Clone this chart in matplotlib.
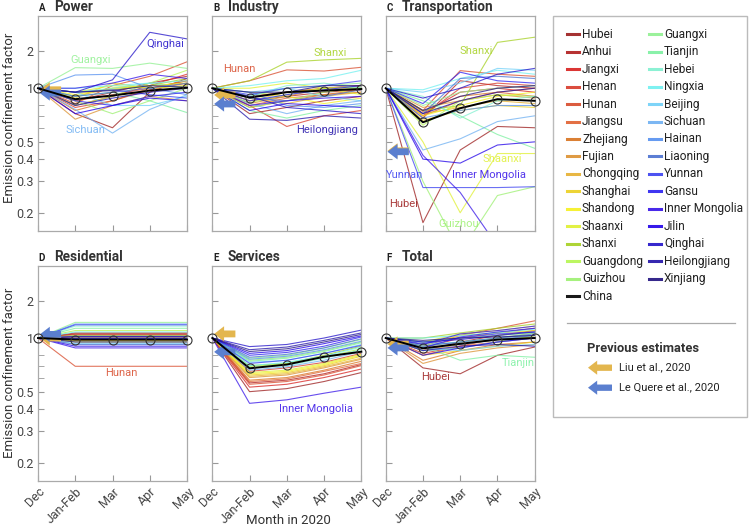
import numpy as np
import matplotlib
matplotlib.use('Agg')
import matplotlib.pyplot as plt
from matplotlib.patches import Rectangle

plt.rcParams['font.family'] = ['Roboto', 'DejaVu Sans']

months = ['Dec', 'Jan-Feb', 'Mar', 'Apr', 'May']

provinces = ['Hubei', 'Anhui', 'Jiangxi', 'Henan', 'Hunan', 'Jiangsu', 'Zhejiang',
             'Fujian', 'Chongqing', 'Shanghai', 'Shandong', 'Shaanxi', 'Shanxi',
             'Guangdong', 'Guizhou', 'Guangxi', 'Tianjin', 'Hebei', 'Ningxia',
             'Beijing', 'Sichuan', 'Hainan', 'Liaoning', 'Yunnan', 'Gansu',
             'Inner Mongolia', 'Jilin', 'Qinghai', 'Heilongjiang', 'Xinjiang']

colors = ['#9b1b1b', '#b01c1c', '#d8201e', '#d83a2a', '#d84a2a', '#e06030', '#d8721e',
          '#dc9030', '#e6b030', '#ecd020', '#f5f020', '#dff030', '#a5d020',
          '#b5f550', '#9cf070', '#90f090', '#7cf0a0', '#80f0d0', '#70f0f0',
          '#70d0f8', '#6eb0f2', '#5590f0', '#4a70d0', '#3a40f0', '#2a20f0',
          '#3512e8', '#2000e8', '#2010c8', '#2010a8', '#201080']

# values per province, Dec .. May (same order as provinces)
power = [
    [1, 0.72, 0.60, 0.95, 1.20], [1, 0.85, 0.95, 1.10, 1.25], [1, 0.80, 0.90, 1.05, 1.30],
    [1, 0.78, 0.85, 0.98, 1.10], [1, 0.82, 1.05, 1.25, 1.64], [1, 0.85, 0.92, 1.00, 1.15],
    [1, 0.75, 0.85, 1.00, 1.15], [1, 0.67, 0.80, 0.90, 0.85], [1, 0.90, 1.00, 1.05, 1.10],
    [1, 0.88, 1.10, 1.00, 1.05], [1, 0.92, 1.00, 1.05, 1.10], [1, 0.95, 1.05, 1.00, 1.05],
    [1, 0.95, 0.98, 1.05, 1.20], [1, 0.80, 0.90, 1.10, 1.40], [1, 0.85, 0.72, 0.85, 1.00],
    [1, 1.47, 1.45, 1.60, 1.45], [1, 0.90, 0.95, 0.85, 0.73], [1, 0.95, 1.00, 1.10, 1.00],
    [1, 1.00, 1.05, 1.10, 1.15], [1, 0.95, 0.80, 0.80, 0.90], [1, 0.76, 0.56, 0.76, 0.92],
    [1, 1.28, 1.30, 1.00, 0.92], [1, 0.90, 0.95, 1.00, 1.10], [1, 0.95, 0.98, 0.92, 0.88],
    [1, 0.85, 0.80, 0.90, 0.95], [1, 1.00, 1.10, 1.30, 1.20], [1, 0.72, 0.80, 0.88, 0.85],
    [1, 0.95, 1.17, 2.85, 2.52], [1, 0.80, 0.88, 0.95, 1.00], [1, 0.95, 0.97, 1.05, 1.02]]

industry = [
    [1, 0.72, 0.78, 0.85, 0.90], [1, 0.85, 0.90, 0.95, 0.98], [1, 0.90, 0.95, 1.00, 1.05],
    [1, 0.80, 0.61, 0.70, 0.75], [1, 1.15, 1.41, 1.38, 1.48], [1, 0.80, 0.88, 0.92, 0.95],
    [1, 0.78, 0.85, 0.92, 0.98], [1, 0.82, 0.90, 1.00, 1.05], [1, 0.88, 0.82, 0.90, 0.95],
    [1, 0.85, 0.95, 1.00, 1.00], [1, 0.95, 0.90, 0.82, 0.88], [1, 1.00, 1.10, 1.00, 0.92],
    [1, 1.15, 1.63, 1.70, 1.75], [1, 0.83, 0.92, 1.00, 1.02], [1, 0.78, 0.85, 0.95, 1.02],
    [1, 0.90, 1.00, 1.05, 1.10], [1, 0.75, 0.68, 0.75, 0.80], [1, 0.90, 1.05, 1.10, 1.00],
    [1, 1.05, 1.15, 1.20, 1.40], [1, 0.95, 1.00, 0.90, 0.85], [1, 0.82, 0.72, 0.80, 0.85],
    [1, 0.95, 0.80, 0.78, 0.82], [1, 0.88, 0.85, 0.90, 0.98], [1, 0.92, 1.00, 1.05, 1.15],
    [1, 0.85, 0.92, 0.98, 1.05], [1, 0.80, 0.85, 0.88, 0.90], [1, 0.75, 0.82, 0.80, 0.78],
    [1, 0.90, 0.78, 0.75, 0.72], [1, 0.67, 0.66, 0.70, 0.68], [1, 0.95, 0.95, 1.05, 1.05]]

transport = [
    [1, 0.176, 0.45, 0.61, 0.60], [1, 0.68, 1.15, 1.05, 1.00], [1, 0.72, 0.95, 1.00, 0.95],
    [1, 0.70, 1.00, 1.10, 1.05], [1, 0.75, 1.39, 1.30, 1.25], [1, 0.70, 0.85, 0.95, 0.90],
    [1, 0.74, 0.90, 0.95, 1.00], [1, 0.78, 0.85, 0.92, 0.88], [1, 0.72, 0.78, 0.85, 0.82],
    [1, 0.66, 0.75, 0.80, 0.78], [1, 0.70, 0.80, 0.90, 0.95], [1, 0.50, 0.20, 0.43, 0.43],
    [1, 0.75, 0.80, 2.36, 2.60], [1, 0.62, 0.85, 0.92, 0.90], [1, 0.30, 0.12, 0.25, 0.28],
    [1, 0.80, 0.95, 1.00, 1.05], [1, 0.85, 0.70, 0.55, 0.46], [1, 0.90, 0.68, 0.85, 0.90],
    [1, 0.98, 1.20, 1.40, 1.30], [1, 0.95, 1.10, 1.45, 1.40], [1, 0.45, 0.52, 0.65, 0.70],
    [1, 0.68, 0.75, 0.80, 0.80], [1, 0.72, 1.20, 1.25, 1.20], [1, 0.277, 0.277, 0.277, 0.28],
    [1, 0.82, 1.35, 1.15, 1.10], [1, 0.42, 0.26, 0.13, 0.10], [1, 0.40, 0.38, 0.48, 0.50],
    [1, 0.88, 1.00, 1.30, 1.45], [1, 0.72, 0.85, 0.95, 1.00], [1, 0.75, 0.90, 1.00, 1.05]]

residential = [
    [1, 1.08, 1.08, 1.08, 1.08], [1, 1.10, 1.10, 1.10, 1.10], [1, 1.05, 1.05, 1.05, 1.05],
    [1, 1.07, 1.07, 1.07, 1.07], [1, 0.694, 0.694, 0.694, 0.694], [1, 1.04, 1.04, 1.04, 1.04],
    [1, 1.02, 1.02, 1.02, 1.02], [1, 1.00, 1.00, 1.00, 1.00], [1, 0.97, 0.97, 0.97, 0.97],
    [1, 0.96, 0.96, 0.96, 0.96], [1, 0.99, 0.99, 0.99, 0.99], [1, 1.00, 1.00, 1.00, 1.00],
    [1, 0.95, 0.95, 0.95, 0.95], [1, 1.15, 1.15, 1.15, 1.15], [1, 1.05, 1.05, 1.05, 1.05],
    [1, 1.34, 1.34, 1.34, 1.34], [1, 1.20, 1.20, 1.20, 1.20], [1, 1.25, 1.25, 1.25, 1.25],
    [1, 1.12, 1.12, 1.12, 1.12], [1, 0.93, 0.93, 0.93, 0.93], [1, 1.00, 1.00, 1.00, 1.00],
    [1, 1.30, 1.30, 1.30, 1.30], [1, 0.92, 0.92, 0.92, 0.92], [1, 1.28, 1.28, 1.28, 1.28],
    [1, 1.03, 1.03, 1.03, 1.03], [1, 0.88, 0.88, 0.88, 0.88], [1, 0.90, 0.90, 0.90, 0.90],
    [1, 1.00, 1.00, 1.00, 1.00], [1, 0.95, 0.95, 0.95, 0.95], [1, 1.02, 1.02, 1.02, 1.02]]

services = [
    [1, 0.50, 0.52, 0.57, 0.64], [1, 0.56, 0.58, 0.63, 0.71], [1, 0.53, 0.55, 0.60, 0.67],
    [1, 0.65, 0.68, 0.73, 0.82], [1, 0.55, 0.57, 0.62, 0.70], [1, 0.57, 0.59, 0.65, 0.72],
    [1, 0.58, 0.60, 0.66, 0.74], [1, 0.60, 0.62, 0.68, 0.76], [1, 0.61, 0.63, 0.69, 0.77],
    [1, 0.62, 0.64, 0.70, 0.79], [1, 0.63, 0.65, 0.71, 0.80], [1, 0.64, 0.66, 0.72, 0.81],
    [1, 0.70, 0.72, 0.80, 0.90], [1, 0.69, 0.72, 0.78, 0.87], [1, 0.75, 0.78, 0.85, 0.95],
    [1, 0.77, 0.80, 0.88, 0.98], [1, 0.74, 0.77, 0.84, 0.94], [1, 0.68, 0.70, 0.77, 0.86],
    [1, 0.70, 0.73, 0.79, 0.89], [1, 0.73, 0.75, 0.82, 0.92], [1, 0.66, 0.69, 0.75, 0.84],
    [1, 0.76, 0.79, 0.86, 0.96], [1, 0.78, 0.81, 0.88, 0.99], [1, 0.72, 0.75, 0.82, 0.91],
    [1, 0.80, 0.83, 0.90, 1.02], [1, 0.43, 0.45, 0.49, 0.53], [1, 0.82, 0.85, 0.93, 1.04],
    [1, 0.895, 0.92, 1.00, 1.16], [1, 0.86, 0.89, 0.97, 1.10], [1, 0.84, 0.87, 0.95, 1.07]]

total = [
    [1, 0.68, 0.63, 0.80, 0.89], [1, 0.85, 0.95, 1.05, 1.15], [1, 0.88, 1.00, 1.10, 1.20],
    [1, 0.82, 0.90, 1.00, 1.05], [1, 0.90, 1.05, 1.20, 1.38], [1, 0.80, 0.90, 0.95, 1.00],
    [1, 0.75, 0.85, 0.92, 0.95], [1, 0.72, 0.82, 0.88, 0.92], [1, 0.85, 0.92, 0.98, 1.02],
    [1, 0.80, 0.85, 0.90, 0.95], [1, 0.92, 1.05, 1.10, 1.15], [1, 0.95, 1.08, 1.15, 1.25],
    [1, 1.00, 1.10, 1.20, 1.30], [1, 0.85, 0.88, 0.95, 1.05], [1, 0.90, 0.95, 1.00, 1.10],
    [1, 0.95, 1.00, 1.05, 1.10], [1, 0.90, 0.75, 0.80, 0.78], [1, 0.92, 0.95, 1.00, 1.05],
    [1, 1.00, 1.05, 1.10, 1.18], [1, 0.88, 0.85, 0.90, 0.92], [1, 0.85, 0.88, 0.95, 1.00],
    [1, 0.95, 0.92, 0.98, 1.05], [1, 0.90, 0.95, 1.00, 1.08], [1, 0.93, 1.00, 1.08, 1.12],
    [1, 0.88, 1.02, 1.12, 1.20], [1, 0.92, 1.08, 1.15, 1.25], [1, 0.80, 0.88, 0.95, 1.00],
    [1, 0.95, 0.98, 1.05, 1.12], [1, 0.85, 0.90, 0.92, 0.90], [1, 0.97, 1.00, 1.02, 1.05]]

china_power = [1, 0.868, 0.909, 0.97, 1.01]
china_industry = [1, 0.886, 0.95, 0.97, 0.99]
china_transport = [1, 0.644, 0.772, 0.868, 0.85]
china_residential = [1, 0.98, 0.98, 0.98, 0.98]
china_services = [1, 0.676, 0.71, 0.785, 0.838]
china_total = [1, 0.875, 0.928, 0.98, 1.0]

sector_names = ['Power', 'Industry', 'Transportation', 'Residential', 'Services', 'Total']
panel_letters = ['A', 'B', 'C', 'D', 'E', 'F']

# previous estimates (arrows at Dec)
liu_2020 = [0.98, 0.917, 0.445, 1.0, 1.08, 0.925]
lequere_2020 = [0.94, 0.816, 0.44, 1.07, 0.836, 0.88]

# highlighted province labels per panel: (province, x, y)
labels = [
    [('Qinghai', 3.42, 2.29), ('Guangxi', 1.42, 1.7), ('Sichuan', 1.27, 0.583)],
    [('Hunan', 0.73, 1.435), ('Shanxi', 3.16, 1.95), ('Heilongjiang', 3.08, 0.583)],
    [('Shanxi', 2.42, 2.02), ('Shaanxi', 3.14, 0.401), ('Yunnan', 0.51, 0.326),
     ('Inner Mongolia', 2.77, 0.326), ('Hubei', 0.47, 0.224), ('Guizhou', 1.97, 0.173)],
    [('Hunan', 2.24, 0.633)],
    [('Inner Mongolia', 2.79, 0.402)],
    [('Hubei', 1.35, 0.604), ('Tianjin', 3.55, 0.72)],
]

sectors = [power, industry, transport, residential, services, total]
china = [china_power, china_industry, china_transport, china_residential,
         china_services, china_total]

LIU_C = '#e3b64e'
LEQ_C = '#5b7fcf'
K = 0.69  # compression of the part above 1


def fwd(v):
    t = np.log10(np.clip(v, 1e-6, None))
    return np.where(t < 0, t, K * t)


def inv(t):
    return np.where(t < 0, 10.0 ** t, 10.0 ** (t / K))


W, H = 750, 531
fig = plt.figure(figsize=(W / 100, H / 100), dpi=100)

col_left = [38, 212.3, 385.7]
row_top = [15.7, 265.5]
aw, ah = 149, 215.3
arrow_style = 'simple,head_length=0.55,head_width=0.85,tail_width=0.38'

for i in range(6):
    r, c = divmod(i, 3)
    ax = fig.add_axes([col_left[c] / W, 1 - (row_top[r] + ah) / H, aw / W, ah / H])
    ax.set_yscale('function', functions=(fwd, inv))
    x = np.arange(len(months))
    for vals, col in zip(sectors[i], colors):
        ax.plot(x, vals, color=col, lw=0.8, alpha=0.75, zorder=2)
    ax.annotate('', xy=(0.05, liu_2020[i]), xytext=(0.62, liu_2020[i]),
                arrowprops=dict(arrowstyle=arrow_style, color=LIU_C, lw=0,
                                shrinkA=0, shrinkB=0, mutation_scale=13), zorder=3)
    ax.annotate('', xy=(0.05, lequere_2020[i]), xytext=(0.62, lequere_2020[i]),
                arrowprops=dict(arrowstyle=arrow_style, color=LEQ_C, lw=0,
                                shrinkA=0, shrinkB=0, mutation_scale=13), zorder=3)
    ax.plot(x, china[i], color='black', lw=1.4, zorder=4, clip_on=False)
    ax.plot(x, china[i], 'o', ms=6.5, mfc='none', mec='#333333', mew=0.8,
            zorder=5, clip_on=False)
    for name, lx, ly in labels[i]:
        ax.text(lx, ly, name, color=colors[provinces.index(name)], alpha=0.85,
                fontsize=8, ha='center', va='center', zorder=6)

    ax.set_xlim(0, 4)
    ax.set_ylim(0.158, 3.89)
    ax.set_yticks([0.2, 0.3, 0.4, 0.5, 1, 2])
    ax.set_yticks([0.6, 0.7, 0.8], minor=True)
    ax.set_xticks(x)
    ax.tick_params(which='both', direction='in', length=4, color='#999999',
                   labelsize=9, labelcolor='#444444', pad=3)
    if c == 0:
        ax.set_yticklabels(['0.2', '0.3', '0.4', '0.5', '1', '2'])
    else:
        ax.set_yticklabels([])
    ax.set_yticklabels([], minor=True)
    if r == 1:
        ax.set_xticklabels(months, rotation=45, ha='right', rotation_mode='anchor')
    else:
        ax.set_xticklabels([])
    for sp in ax.spines.values():
        sp.set_color('#aaaaaa')
        sp.set_linewidth(0.9)
    ax.text(0.005, 1.02, panel_letters[i], transform=ax.transAxes, fontsize=7,
            fontweight='bold', color='#222222', va='baseline', ha='left')
    ax.text(0.105, 1.02, sector_names[i], transform=ax.transAxes, fontsize=9.8,
            fontweight='bold', color='#333333', va='baseline', ha='left')

fig.text(10 / W, 1 - 118 / H, 'Emission confinement factor', rotation=90,
         fontsize=9.5, color='#333333', ha='center', va='center')
fig.text(10 / W, 1 - 373 / H, 'Emission confinement factor', rotation=90,
         fontsize=9.5, color='#333333', ha='center', va='center')
fig.text(288 / W, 1 - 520 / H, 'Month in 2020', fontsize=9.5, color='#333333',
         ha='center', va='center')

# legend panel, drawn in figure pixel coordinates
lg = fig.add_axes([0, 0, 1, 1], facecolor='none')
lg.set_xlim(0, W)
lg.set_ylim(H, 0)
lg.axis('off')
lg.add_patch(Rectangle((553, 15.7), 194, 401.3, fill=False, ec='#bbbbbb', lw=1))

entries = list(zip(provinces[:15], colors[:15])) + [('China', 'black')]
entries2 = list(zip(provinces[15:], colors[15:]))
for col_x, items in [(567, entries), (649, entries2)]:
    for j, (name, col) in enumerate(items):
        yy = 34.3 + j * 17.45
        lg.plot([col_x, col_x + 12], [yy, yy], color=col, lw=2.2, alpha=0.9)
        lg.text(col_x + 15, yy, name, fontsize=8.6, color='#222222', va='center')

lg.plot([567, 735], [323, 323], color='#aaaaaa', lw=0.9)
lg.text(587, 349, 'Previous estimates', fontsize=9.3, fontweight='bold',
        color='#333333', va='center')
for yy, col, txt in [(367.7, LIU_C, 'Liu et al., 2020'), (387.7, LEQ_C, 'Le Quere et al., 2020')]:
    lg.annotate('', xy=(588, yy), xytext=(612, yy),
                arrowprops=dict(arrowstyle=arrow_style, color=col, lw=0,
                                shrinkA=0, shrinkB=0, mutation_scale=12))
    lg.text(619, yy, txt, fontsize=8, color='#222222', va='center')

fig.savefig('out.png', dpi=100)
